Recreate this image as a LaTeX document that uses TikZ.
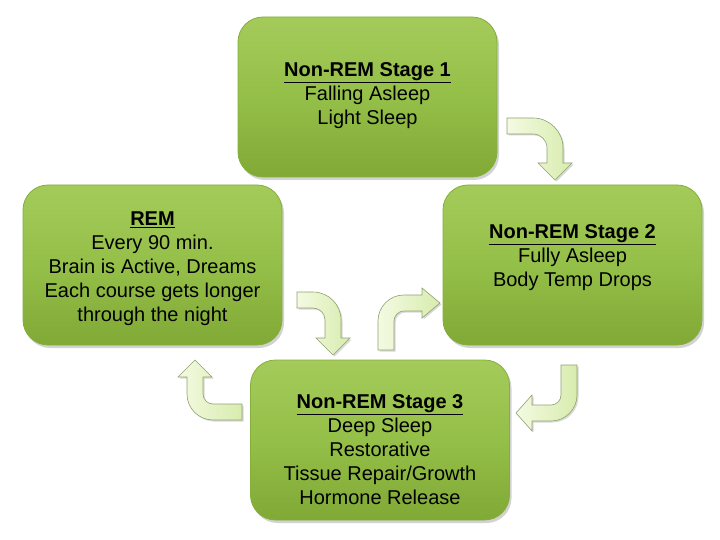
\documentclass[tikz,border=0pt]{standalone}
\usepackage{fontspec}
\setmainfont{Liberation Sans}
\usetikzlibrary{shadows}
\definecolor{boxtop}{HTML}{A4CB5A}
\definecolor{boxmid}{HTML}{94BF48}
\definecolor{boxbot}{HTML}{80A935}
\definecolor{boxline}{HTML}{86AE3C}
\definecolor{arrlight}{HTML}{F4FAE2}
\definecolor{arrdark}{HTML}{D8ECAE}
\definecolor{arrline}{HTML}{8FA272}
\begin{document}
\begin{tikzpicture}[x=1pt,y=-1pt,
  stagebox/.style={draw=boxline, line width=0.8pt, rounded corners=25pt,
    minimum width=259pt, minimum height=160pt,
    top color=boxtop, bottom color=boxbot, middle color=boxmid,
    drop shadow={shadow xshift=2pt, shadow yshift=-3pt, opacity=0.35}},
  stagetext/.style={align=center, inner sep=0pt, font=\fontsize{20}{24}\selectfont},
  bent/.style={draw=arrline, line width=0.6pt, line join=miter,
    left color=arrlight, right color=arrdark,
    drop shadow={shadow xshift=1.5pt, shadow yshift=-1.5pt, opacity=0.3}}]
\useasboundingbox (0,0) rectangle (720,540);
\fill[white] (0,0) rectangle (720,540);

% stage boxes
\node[stagebox] (s1) at (367.5,97) {};
\node[stagebox] (s2) at (572.5,265) {};
\node[stagebox] (s3) at (380,440) {};
\node[stagebox] (rem) at (152.5,265) {};

% texts
\node[stagetext] (t1) at (367.5,96) {\underline{\textbf{Non-REM Stage 1}}\\Falling Asleep\\Light Sleep};
\node[stagetext] (t2) at (572.5,258) {\underline{\textbf{Non-REM Stage 2}}\\Fully Asleep\\Body Temp Drops};
\node[stagetext] (t3) at (380,450) {\underline{\textbf{Non-REM Stage 3}}\\Deep Sleep\\Restorative\\Tissue Repair/Growth\\Hormone Release};
\node[stagetext] (trem) at (152.5,269) {\underline{\textbf{REM}}\\Every 90 min.\\Brain is Active, Dreams\\Each course gets longer\\through the night};

% bent arrows
% stage 1 -> stage 2
\path[bent] (507,118) -- (533,118) arc[start angle=-90,end angle=0,radius=30]
  -- (563,163) -- (572,163) -- (555,180) -- (538,163) -- (547,163) -- (547,148)
  arc[start angle=0,end angle=-90,radius=14] -- (507,134) -- cycle;
% stage 2 -> stage 3
\path[bent] (561,365) -- (577,365) -- (577,395) arc[start angle=0,end angle=90,radius=26]
  -- (532,421) -- (532,431) -- (516,413) -- (532,395) -- (532,405) -- (551,405)
  arc[start angle=90,end angle=0,radius=10] -- cycle;
% stage 3 -> REM
\path[bent] (195,360) -- (212,377) -- (203,377) -- (203,394)
  arc[start angle=180,end angle=90,radius=10] -- (242,404) -- (242,420) -- (213,420)
  arc[start angle=90,end angle=180,radius=26] -- (187,377) -- (178,377) -- cycle;
% REM -> stage 3
\path[bent] (297,292) -- (313,292) arc[start angle=-90,end angle=0,radius=28]
  -- (341,338) -- (350,338) -- (333,355) -- (316,338) -- (325,338) -- (325,320)
  arc[start angle=0,end angle=-90,radius=12] -- (297,308) -- cycle;
% stage 3 -> stage 2
\path[bent] (378,350) -- (378,321) arc[start angle=180,end angle=270,radius=26]
  -- (422,295) -- (422,288) -- (440,303) -- (422,318) -- (422,311) -- (404,311)
  arc[start angle=270,end angle=180,radius=10] -- (394,350) -- cycle;
\end{tikzpicture}
\end{document}
